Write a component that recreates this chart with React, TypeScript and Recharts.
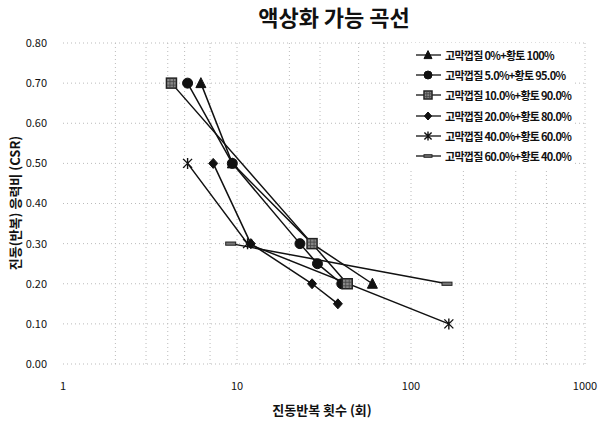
import React from 'react';
import { LineChart, Line, XAxis, YAxis, CartesianGrid } from 'recharts';

const seriesNames = [
  '고막껍질 0%+황토 100%',
  '고막껍질 5.0%+황토 95.0%',
  '고막껍질 10.0%+황토 90.0%',
  '고막껍질 20.0%+황토 80.0%',
  '고막껍질 40.0%+황토 60.0%',
  '고막껍질 60.0%+황토 40.0%',
];

const s0 = [
  { n: 6.2, csr: 0.7 },
  { n: 9.4, csr: 0.5 },
  { n: 27, csr: 0.3 },
  { n: 60, csr: 0.2 },
];
const s1 = [
  { n: 5.2, csr: 0.7 },
  { n: 9.4, csr: 0.5 },
  { n: 23, csr: 0.3 },
  { n: 29, csr: 0.25 },
  { n: 40, csr: 0.2 },
];
const s2 = [
  { n: 4.2, csr: 0.7 },
  { n: 27, csr: 0.3 },
  { n: 43, csr: 0.2 },
];
const s3 = [
  { n: 7.3, csr: 0.5 },
  { n: 12, csr: 0.3 },
  { n: 27, csr: 0.2 },
  { n: 38, csr: 0.15 },
];
const s4 = [
  { n: 5.2, csr: 0.5 },
  { n: 11.5, csr: 0.3 },
  { n: 165, csr: 0.1 },
];
const s5 = [
  { n: 9.2, csr: 0.3 },
  { n: 161, csr: 0.2 },
];

const xTicks = [1, 10, 100, 1000];
const yTicks = [0, 0.1, 0.2, 0.3, 0.4, 0.5, 0.6, 0.7, 0.8];
const minorX = [2, 3, 4, 5, 6, 7, 8, 9, 10, 20, 30, 40, 50, 60, 70, 80, 90, 100, 200, 300, 400, 500, 600, 700, 800, 900, 1000];

const FONT = '"Noto Sans CJK KR", "Noto Sans", sans-serif';

type MarkerKind = 'tri' | 'circle' | 'square' | 'diamond' | 'star' | 'dash';
const kinds: MarkerKind[] = ['tri', 'circle', 'square', 'diamond', 'star', 'dash'];
const datasets = [s0, s1, s2, s3, s4, s5];

function Marker({ kind, cx, cy, s = 1 }: { kind: MarkerKind; cx: number; cy: number; s?: number }) {
  const k = (v: number) => v * s;
  switch (kind) {
    case 'tri':
      return <polygon points={`${cx},${cy - k(5.5)} ${cx - k(5)},${cy + k(4.5)} ${cx + k(5)},${cy + k(4.5)}`} fill="#111" stroke="#111" />;
    case 'circle':
      return <circle cx={cx} cy={cy} r={k(5)} fill="#111" stroke="#111" />;
    case 'square':
      return (
        <g>
          <rect x={cx - k(5)} y={cy - k(5)} width={k(10)} height={k(10)} fill="#888" stroke="#222" strokeWidth={1.5} />
          <path d={`M${cx - k(4.5)} ${cy - k(1.5)}H${cx + k(4.5)}M${cx - k(4.5)} ${cy + k(2)}H${cx + k(4.5)}M${cx - k(1.5)} ${cy - k(4.5)}V${cy + k(4.5)}M${cx + k(2)} ${cy - k(4.5)}V${cy + k(4.5)}`} stroke="#444" strokeWidth={0.8} />
        </g>
      );
    case 'diamond':
      return <polygon points={`${cx},${cy - k(5)} ${cx + k(4.5)},${cy} ${cx},${cy + k(5)} ${cx - k(4.5)},${cy}`} fill="#111" stroke="#111" />;
    case 'star':
      return (
        <path
          d={`M${cx - k(4.5)} ${cy - k(4.5)}L${cx + k(4.5)} ${cy + k(4.5)}M${cx - k(4.5)} ${cy + k(4.5)}L${cx + k(4.5)} ${cy - k(4.5)}M${cx} ${cy - k(5.5)}V${cy + k(5.5)}`}
          stroke="#111"
          strokeWidth={1.4}
        />
      );
    case 'dash':
      return <rect x={cx - k(5)} y={cy - k(1.6)} width={k(10)} height={k(3.2)} fill="#777" stroke="#222" strokeWidth={1} />;
  }
  return null;
}

const makeDot = (kind: MarkerKind) => (props: any) => {
  const { cx, cy, index } = props;
  if (cx == null || cy == null) return <g key={index} />;
  return <Marker key={`${kind}-${index}`} kind={kind} cx={cx} cy={cy} />;
};

const LegendBox = () => (
  <div
    style={{
      position: 'absolute',
      left: 410,
      top: 43,
      padding: '2px 4px',
      fontFamily: FONT,
      fontSize: 11,
      fontWeight: 700,
      color: '#111',
      background: '#fff',
    }}
  >
    {seriesNames.map((name, i) => (
      <div key={name} style={{ display: 'flex', alignItems: 'center', height: 20.2, whiteSpace: 'nowrap' }}>
        <svg width={28} height={14} style={{ marginRight: 3 }}>
          <line x1={2} y1={7} x2={27} y2={7} stroke="#111" strokeWidth={1.3} />
          <Marker kind={kinds[i]} cx={14} cy={7} s={0.8} />
        </svg>
        <span style={{ letterSpacing: -0.7 }}>{name}</span>
      </div>
    ))}
  </div>
);

export default function App() {
  return (
    <div style={{ position: 'absolute', left: 0, top: 0, width: 608, height: 421, background: '#fff', fontFamily: FONT }}>
      <LineChart width={608} height={421} margin={{ top: 43, right: 23, bottom: 27, left: 8 }}>
        <CartesianGrid
          stroke="#bbb"
          strokeDasharray="1 3"
          verticalValues={minorX}
          horizontalValues={yTicks}
        />
        <XAxis
          type="number"
          dataKey="n"
          scale="log"
          domain={[1, 1000]}
          ticks={xTicks}
          allowDataOverflow
          axisLine={false}
          tickLine={false}
          height={30}
          tickMargin={12}
          tick={{ fill: '#111', fontSize: 11, fontFamily: FONT }}
        />
        <YAxis
          type="number"
          dataKey="csr"
          domain={[0, 0.8]}
          ticks={yTicks}
          width={55}
          axisLine={false}
          tickLine={false}
          tickMargin={10}
          tickFormatter={(v: number) => v.toFixed(2)}
          tick={{ fill: '#111', fontSize: 11, fontFamily: FONT }}
        />
        {datasets.map((d, i) => (
          <Line
            key={seriesNames[i]}
            data={d}
            dataKey="csr"
            name={seriesNames[i]}
            stroke="#111"
            strokeWidth={1.5}
            dot={makeDot(kinds[i])}
            activeDot={false}
            isAnimationActive={false}
            legendType="none"
          />
        ))}
      </LineChart>
      <LegendBox />
      <div
        style={{
          position: 'absolute',
          left: 0,
          width: 608,
          top: 0,
          textAlign: 'center',
          fontSize: 22,
          fontWeight: 700,
          paddingLeft: 60,
          boxSizing: 'border-box',
          color: '#111',
        }}
      >
        액상화 가능 곡선
      </div>
      <div
        style={{
          position: 'absolute',
          left: 0,
          width: 608,
          top: 400,
          textAlign: 'center',
          fontSize: 13,
          fontWeight: 700,
          paddingLeft: 36,
          boxSizing: 'border-box',
          color: '#111',
        }}
      >
        진동반복 횟수 (회)
      </div>
      <div
        style={{
          position: 'absolute',
          left: 14,
          top: 203,
          transform: 'translate(-50%, -50%) rotate(-90deg)',
          fontSize: 13,
          fontWeight: 700,
          whiteSpace: 'nowrap',
          color: '#111',
        }}
      >
        진동(반복) 응력비 (CSR)
      </div>
    </div>
  );
}
